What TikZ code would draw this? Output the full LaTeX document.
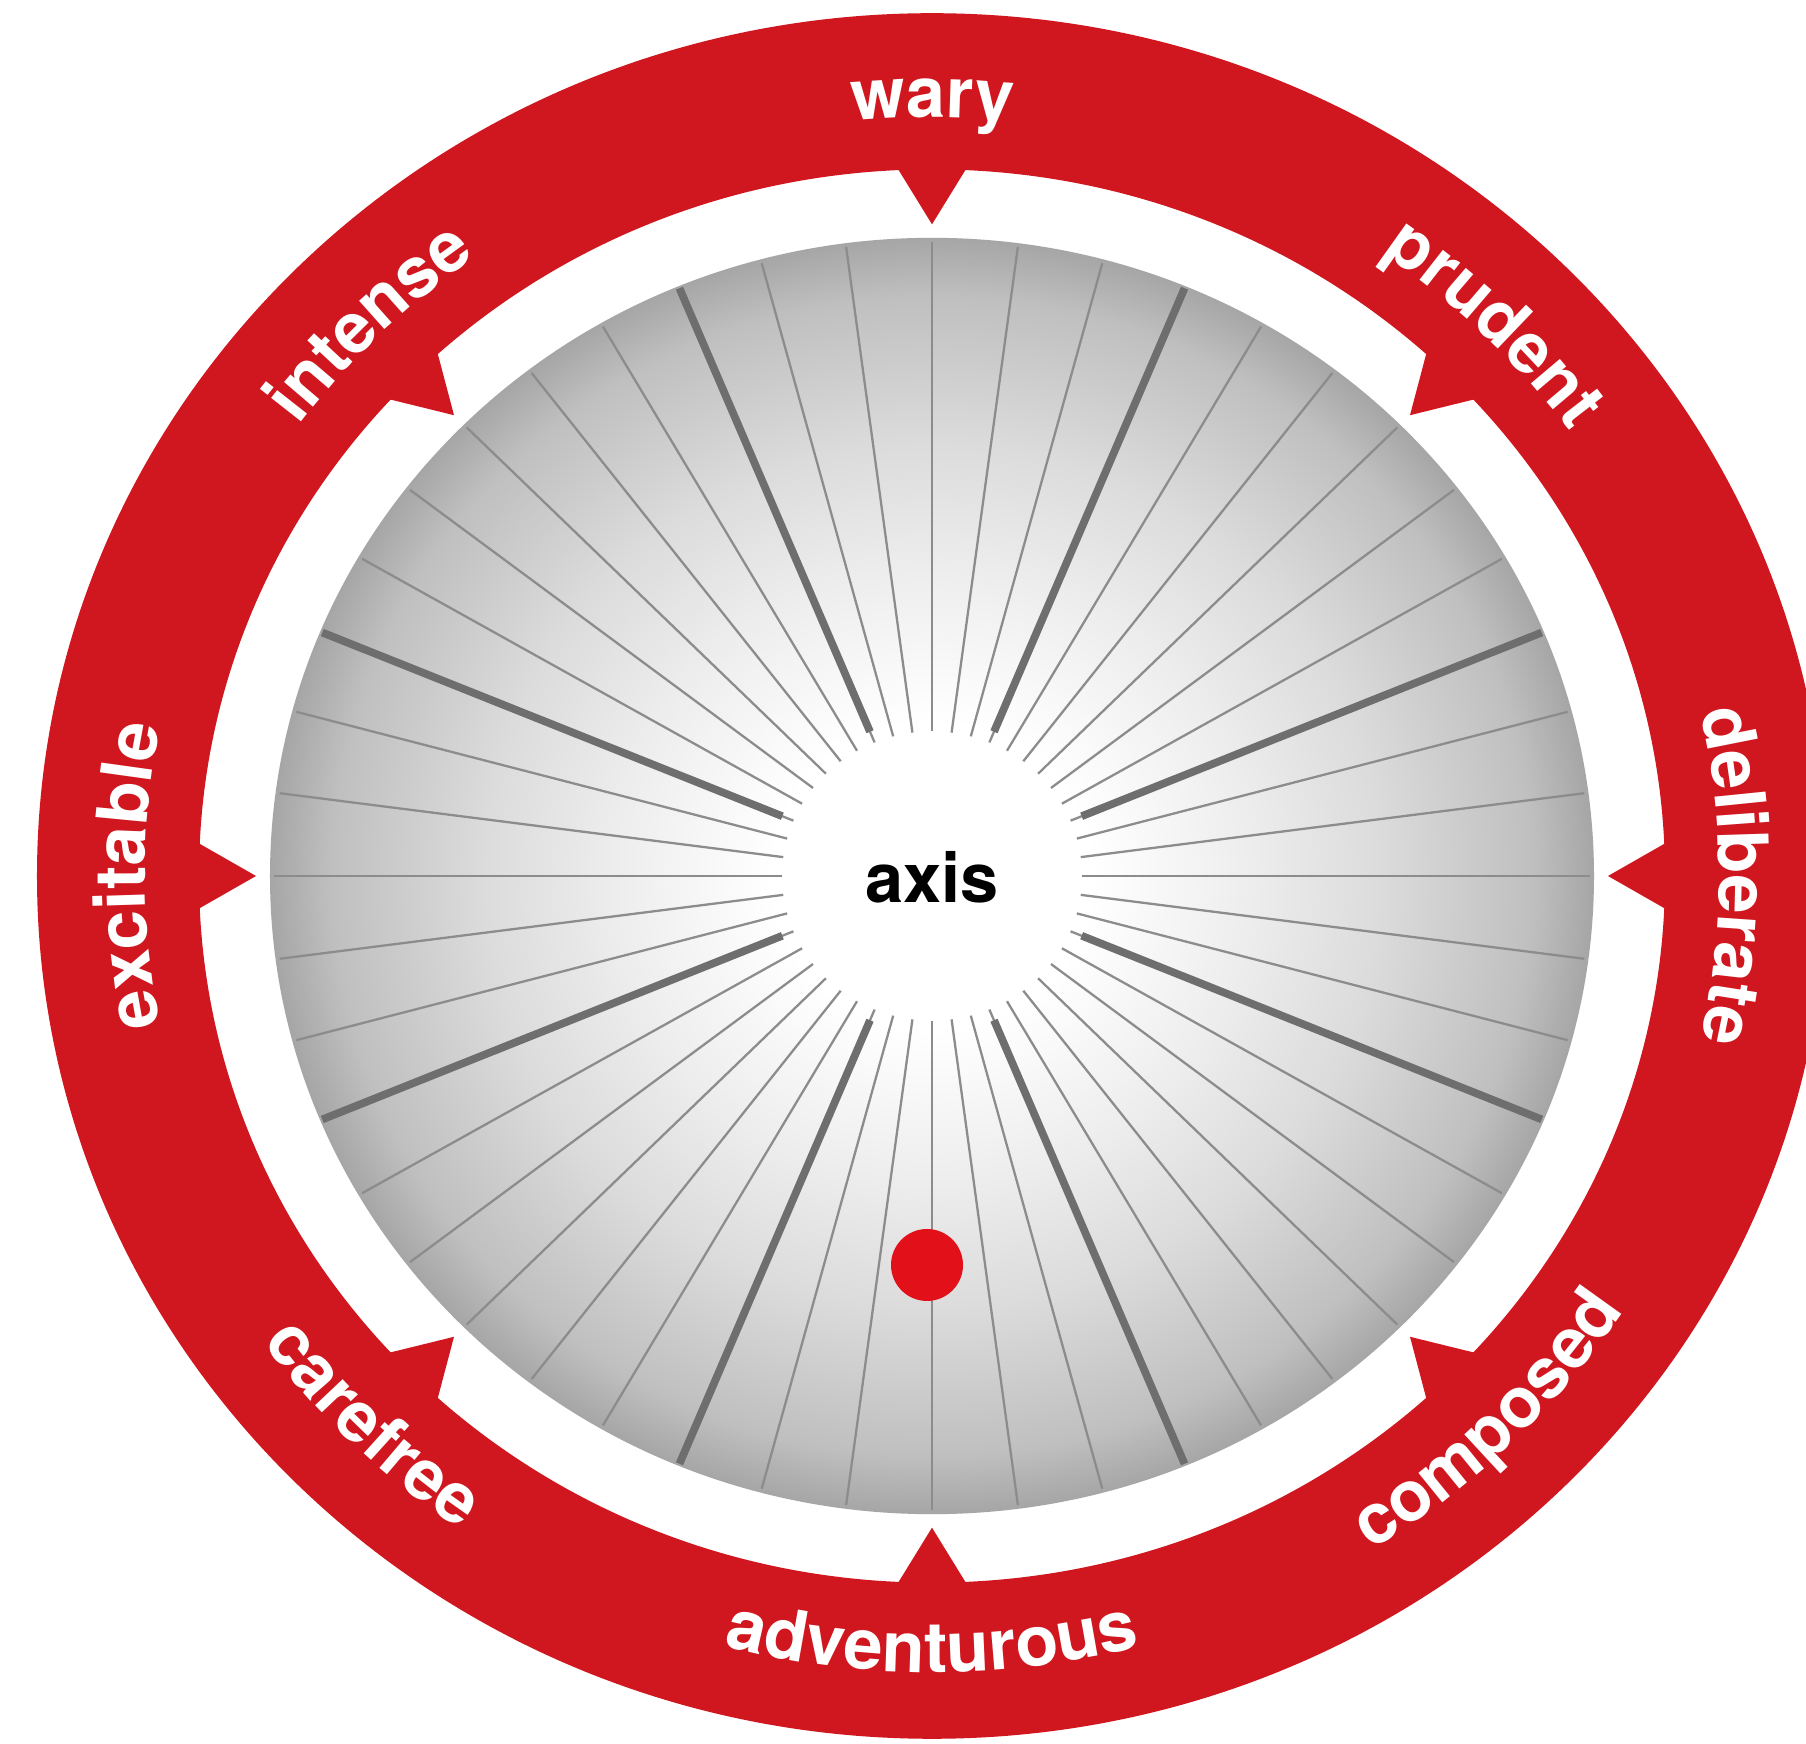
\documentclass[tikz,border=0pt]{standalone}
\usepackage{fontspec}
\setmainfont{TeX Gyre Heros}
\usetikzlibrary{decorations.text}
\definecolor{ringred}{RGB}{208,22,30}
\definecolor{dotred}{RGB}{226,16,24}
\pgfdeclareradialshading{discshade}{\pgfpointorigin}{color(0bp)=(white); color(6bp)=(white); color(12bp)=(gray!14); color(17bp)=(gray!28); color(22.7bp)=(gray!50); color(25bp)=(gray!70); color(50bp)=(gray!70)}
\newcommand{\wordfont}{\fontsize{20}{24}\selectfont\bfseries}

\begin{document}
\begin{tikzpicture}[x=0.1mm, y=0.0964mm,
    thinspoke/.style={draw=black!45, line width=0.65pt},
    thickspoke/.style={draw=black!57, line width=2.2pt},
    cwword/.style={decorate, decoration={text along path, text align=center, text color=white, text={|\wordfont|#1}}},
    ccwword/.style={cwword=#1}]
  \useasboundingbox (-932,-899.4) rectangle (874,908.7);
  \clip (-932,-899.4) rectangle (874,908.7);
  \fill[white] (-932,-899.4) rectangle (874,908.7);
  % red ring with 8 teeth
  \fill[ringred, even odd rule] (0,0) circle[radius=895] (0,0) circle[radius=733];
  \foreach \a in {0,45,...,315}
    \fill[ringred] (\a-3.1:745) -- (\a:676) -- (\a+3.1:745) -- cycle;
  % grey disc and spokes
  \shade[shading=discshade] (0,0) circle[radius=662];
  \foreach \a in {0,7.5,...,352.5}
    \draw[thinspoke] (\a:150) -- (\a:658);
  \foreach \a in {22.5,67.5,...,337.5}
    \draw[thickspoke] (\a:162) -- (\a:660);
  \node[anchor=base, font=\fontsize{19.5}{23}\selectfont\bfseries] (axis) at (0,-27) {axis};
  \node[circle, fill=dotred, inner sep=0pt, minimum size=7.2mm] (dot) at (-5,-403.5) {};
  % words on the ring
  \path[cwword={wary}] (135:787) arc[start angle=135, end angle=45, radius=787];
  \path[cwword={prudent}] (90:787) arc[start angle=90, end angle=0, radius=787];
  \path[cwword={deliberate}] (45:787) arc[start angle=45, end angle=-45, radius=787];
  \path[cwword={excitable}] (225:787) arc[start angle=225, end angle=135, radius=787];
  \path[cwword={intense}] (180:787) arc[start angle=180, end angle=90, radius=787];
  \path[ccwword={adventurous}] (-135:826) arc[start angle=-135, end angle=-45, radius=826];
  \path[ccwword={carefree}] (180:826) arc[start angle=180, end angle=270, radius=826];
  \path[ccwword={composed}] (-90:826) arc[start angle=-90, end angle=0, radius=826];
\end{tikzpicture}
\end{document}
